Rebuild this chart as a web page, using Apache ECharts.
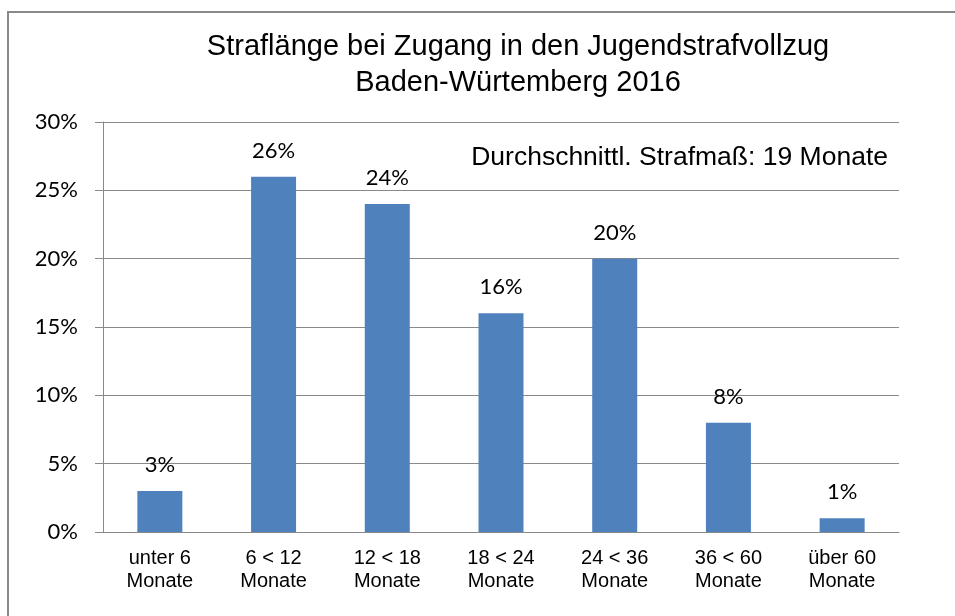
<!DOCTYPE html>
<html>
<head>
<meta charset="utf-8">
<title>Straflänge bei Zugang in den Jugendstrafvollzug</title>
<script src="https://cdn.jsdelivr.net/npm/echarts@6/dist/echarts.min.js"></script>
<style>
  html, body { margin: 0; padding: 0; background: #fff; }
  #chart { width: 955px; height: 616px; }
</style>
</head>
<body>
<div id="chart"></div>
<script>
// Daten
const categories = [
  "unter 6\nMonate",
  "6 < 12\nMonate",
  "12 < 18\nMonate",
  "18 < 24\nMonate",
  "24 < 36\nMonate",
  "36 < 60\nMonate",
  "über 60\nMonate"
];
const shares = [3, 26, 24, 16, 20, 8, 1]; // Anteil in %
const yMin = 0;
const yMax = 30;
const yStep = 5;
const titleText = "Straflänge bei Zugang in den Jugendstrafvollzug\nBaden-Würtemberg 2016";
const noteText = "Durchschnittl. Strafmaß: 19 Monate";

const arial = "'Liberation Sans', Arial, sans-serif";
const calibri = "Lato, 'Open Sans', sans-serif";
const lineGrey = "#898989";

const chart = echarts.init(document.getElementById("chart"));

chart.setOption({
  animation: false,
  backgroundColor: "#fff",
  title: {
    text: titleText,
    left: 518,
    top: 29,
    padding: 0,
    textAlign: "center",
    textStyle: {
      fontFamily: arial,
      fontSize: 29,
      fontWeight: "normal",
      color: "#000",
      lineHeight: 36
    }
  },
  graphic: [
    {
      // Rahmen (rechts/unten abgeschnitten)
      type: "rect",
      shape: { x: 8, y: 12, width: 1000, height: 700 },
      style: { fill: null, stroke: lineGrey, lineWidth: 2 },
      silent: true
    },
    {
      type: "text",
      x: 888,
      y: 158,
      style: {
        text: noteText,
        align: "right",
        verticalAlign: "middle",
        font: "26.5px " + arial,
        fill: "#000"
      }
    }
  ],
  grid: {
    left: 103,
    right: 56,
    top: 122,
    bottom: 84,
    outerBoundsMode: "none"
  },
  xAxis: {
    type: "category",
    data: categories,
    axisLine: { lineStyle: { color: lineGrey, width: 1 } },
    axisTick: { length: 6, lineStyle: { color: lineGrey } },
    axisLabel: {
      margin: 15,
      fontFamily: arial,
      fontSize: 20,
      lineHeight: 23,
      color: "#000",
      interval: 0
    }
  },
  yAxis: {
    type: "value",
    min: yMin,
    max: yMax,
    interval: yStep,
    axisLine: { show: true, lineStyle: { color: lineGrey, width: 1 } },
    axisTick: { show: true, length: 8, lineStyle: { color: lineGrey } },
    splitLine: { lineStyle: { color: lineGrey, width: 1 } },
    axisLabel: {
      margin: 25,
      formatter: "{value}%",
      fontFamily: calibri,
      fontSize: 22,
      color: "#000"
    }
  },
  series: [
    {
      type: "bar",
      data: shares,
      barWidth: 45,
      itemStyle: { color: "#4f81bd" },
      label: {
        show: true,
        position: "top",
        distance: 15,
        formatter: "{c}%",
        fontFamily: calibri,
        fontSize: 22,
        color: "#000"
      }
    }
  ]
});
</script>
</body>
</html>
